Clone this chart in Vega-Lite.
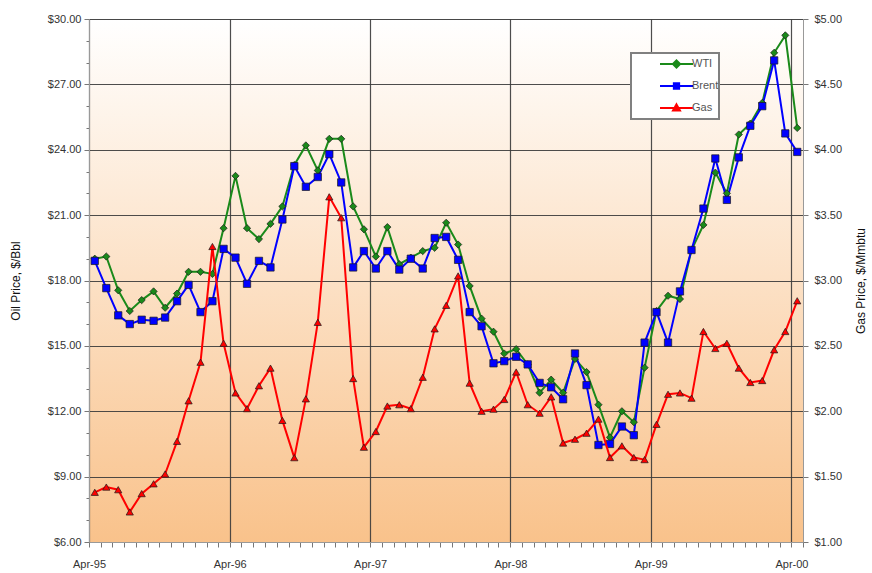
{
  "$schema": "https://vega.github.io/schema/vega-lite/v6.json",
  "width": 714,
  "height": 523,
  "autosize": {"type": "none"},
  "padding": {"left": 89, "top": 19, "right": 69, "bottom": 31},
  "view": {
    "fill": {"gradient": "linear", "x1": 0, "y1": 0, "x2": 0, "y2": 1,
      "stops": [{"offset": 0, "color": "#ffffff"}, {"offset": 1, "color": "#f9c28b"}]},
    "stroke": "#c8c8c8"
  },
  "data": {"values": [
    {"date": "1995-04-16", "WTI": 19.0, "Brent": 18.9, "Gas": 1.38},
    {"date": "1995-05-16", "WTI": 19.1, "Brent": 17.65, "Gas": 1.42},
    {"date": "1995-06-16", "WTI": 17.55, "Brent": 16.4, "Gas": 1.40},
    {"date": "1995-07-16", "WTI": 16.6, "Brent": 16.0, "Gas": 1.23},
    {"date": "1995-08-16", "WTI": 17.1, "Brent": 16.2, "Gas": 1.37},
    {"date": "1995-09-16", "WTI": 17.5, "Brent": 16.15, "Gas": 1.445},
    {"date": "1995-10-16", "WTI": 16.75, "Brent": 16.3, "Gas": 1.52},
    {"date": "1995-11-16", "WTI": 17.4, "Brent": 17.05, "Gas": 1.77},
    {"date": "1995-12-16", "WTI": 18.4, "Brent": 17.8, "Gas": 2.08},
    {"date": "1996-01-16", "WTI": 18.4, "Brent": 16.55, "Gas": 2.375},
    {"date": "1996-02-16", "WTI": 18.3, "Brent": 17.05, "Gas": 3.26},
    {"date": "1996-03-16", "WTI": 20.4, "Brent": 19.45, "Gas": 2.52},
    {"date": "1996-04-16", "WTI": 22.8, "Brent": 19.05, "Gas": 2.14},
    {"date": "1996-05-16", "WTI": 20.4, "Brent": 17.85, "Gas": 2.02},
    {"date": "1996-06-16", "WTI": 19.9, "Brent": 18.9, "Gas": 2.195},
    {"date": "1996-07-16", "WTI": 20.6, "Brent": 18.6, "Gas": 2.33},
    {"date": "1996-08-16", "WTI": 21.4, "Brent": 20.8, "Gas": 1.93},
    {"date": "1996-09-16", "WTI": 23.3, "Brent": 23.25, "Gas": 1.645},
    {"date": "1996-10-16", "WTI": 24.2, "Brent": 22.3, "Gas": 2.095},
    {"date": "1996-11-16", "WTI": 23.05, "Brent": 22.75, "Gas": 2.68},
    {"date": "1996-12-16", "WTI": 24.5, "Brent": 23.8, "Gas": 3.64},
    {"date": "1997-01-16", "WTI": 24.5, "Brent": 22.5, "Gas": 3.48},
    {"date": "1997-02-16", "WTI": 21.4, "Brent": 18.6, "Gas": 2.25},
    {"date": "1997-03-16", "WTI": 20.35, "Brent": 19.35, "Gas": 1.725},
    {"date": "1997-04-16", "WTI": 19.1, "Brent": 18.55, "Gas": 1.845},
    {"date": "1997-05-16", "WTI": 20.45, "Brent": 19.35, "Gas": 2.04},
    {"date": "1997-06-16", "WTI": 18.75, "Brent": 18.5, "Gas": 2.05},
    {"date": "1997-07-16", "WTI": 19.05, "Brent": 19.0, "Gas": 2.02},
    {"date": "1997-08-16", "WTI": 19.35, "Brent": 18.55, "Gas": 2.26},
    {"date": "1997-09-16", "WTI": 19.5, "Brent": 19.95, "Gas": 2.63},
    {"date": "1997-10-16", "WTI": 20.65, "Brent": 20.0, "Gas": 2.81},
    {"date": "1997-11-16", "WTI": 19.65, "Brent": 18.95, "Gas": 3.035},
    {"date": "1997-12-16", "WTI": 17.75, "Brent": 16.55, "Gas": 2.215},
    {"date": "1998-01-16", "WTI": 16.25, "Brent": 15.9, "Gas": 2.0},
    {"date": "1998-02-16", "WTI": 15.65, "Brent": 14.2, "Gas": 2.016},
    {"date": "1998-03-16", "WTI": 14.65, "Brent": 14.3, "Gas": 2.09},
    {"date": "1998-04-16", "WTI": 14.85, "Brent": 14.5, "Gas": 2.30},
    {"date": "1998-05-16", "WTI": 14.15, "Brent": 14.15, "Gas": 2.05},
    {"date": "1998-06-16", "WTI": 12.85, "Brent": 13.3, "Gas": 1.985},
    {"date": "1998-07-16", "WTI": 13.45, "Brent": 13.1, "Gas": 2.11},
    {"date": "1998-08-16", "WTI": 12.85, "Brent": 12.55, "Gas": 1.757},
    {"date": "1998-09-16", "WTI": 14.4, "Brent": 14.65, "Gas": 1.786},
    {"date": "1998-10-16", "WTI": 13.8, "Brent": 13.2, "Gas": 1.832},
    {"date": "1998-11-16", "WTI": 12.3, "Brent": 10.45, "Gas": 1.94},
    {"date": "1998-12-16", "WTI": 10.8, "Brent": 10.5, "Gas": 1.646},
    {"date": "1999-01-16", "WTI": 12.0, "Brent": 11.3, "Gas": 1.735},
    {"date": "1999-02-16", "WTI": 11.5, "Brent": 10.9, "Gas": 1.646},
    {"date": "1999-03-16", "WTI": 14.0, "Brent": 15.15, "Gas": 1.63},
    {"date": "1999-04-16", "WTI": 16.6, "Brent": 16.55, "Gas": 1.90},
    {"date": "1999-05-16", "WTI": 17.3, "Brent": 15.15, "Gas": 2.13},
    {"date": "1999-06-16", "WTI": 17.15, "Brent": 17.5, "Gas": 2.14},
    {"date": "1999-07-16", "WTI": 19.4, "Brent": 19.4, "Gas": 2.10},
    {"date": "1999-08-16", "WTI": 20.55, "Brent": 21.3, "Gas": 2.61},
    {"date": "1999-09-16", "WTI": 22.95, "Brent": 23.6, "Gas": 2.48},
    {"date": "1999-10-16", "WTI": 22.0, "Brent": 21.7, "Gas": 2.52},
    {"date": "1999-11-16", "WTI": 24.7, "Brent": 23.65, "Gas": 2.33},
    {"date": "1999-12-16", "WTI": 25.2, "Brent": 25.1, "Gas": 2.22},
    {"date": "2000-01-16", "WTI": 26.15, "Brent": 26.0, "Gas": 2.235},
    {"date": "2000-02-16", "WTI": 28.45, "Brent": 28.1, "Gas": 2.47},
    {"date": "2000-03-16", "WTI": 29.25, "Brent": 24.75, "Gas": 2.61},
    {"date": "2000-04-16", "WTI": 25.0, "Brent": 23.9, "Gas": 2.845}
  ]},
  "transform": [{"fold": ["WTI", "Brent", "Gas"], "as": ["series", "value"]}],
  "encoding": {
    "x": {
      "field": "date", "type": "temporal",
      "scale": {"type": "utc", "domain": [{"year": 1995, "month": 4, "date": 1, "utc": true}, {"year": 2000, "month": 5, "date": 1, "utc": true}]},
      "axis": {
        "title": null,
        "tickCount": {"interval": "month", "step": 1},
        "labelExpr": "utcmonth(datum.value) === 3 ? utcFormat(datum.value, '%b-%y') : ''",
        "labelFlush": false,
        "labelOverlap": false,
        "labelPadding": 11,
        "tickSize": 5,
        "grid": true,
        "gridColor": "#3a3a3a",
        "gridWidth": 1.2,
        "gridOpacity": {"condition": {"test": "utcmonth(datum.value) === 3", "value": 0.9}, "value": 0}
      }
    }
  },
  "layer": [
    {
      "transform": [{"filter": "datum.series !== 'Gas'"}],
      "encoding": {
        "y": {
          "field": "value", "type": "quantitative",
          "scale": {"domain": [6, 30], "nice": false, "zero": false},
          "axis": {
            "orient": "left",
            "title": "Oil Price, $/Bbl",
            "titlePadding": 25,
            "values": [6, 7, 8, 9, 10, 11, 12, 13, 14, 15, 16, 17, 18, 19, 20, 21, 22, 23, 24, 25, 26, 27, 28, 29, 30],
            "format": "$.2f",
            "labelExpr": "datum.value % 3 === 0 ? datum.label : ''",
            "labelPadding": 3,
            "tickSize": {"condition": {"test": "datum.value % 3 === 0", "value": 5}, "value": 3},
            "grid": true,
            "gridColor": "#3a3a3a",
            "gridWidth": 1.2,
            "gridOpacity": {"condition": {"test": "datum.value % 3 === 0", "value": 0.9}, "value": 0}
          }
        }
      },
      "layer": [
        {
          "mark": {"type": "line", "strokeWidth": 2},
          "encoding": {
            "color": {"field": "series", "type": "nominal", "scale": {"domain": ["WTI", "Brent"], "range": ["#1a8a1a", "#0000ff"]}, "legend": null}
          }
        },
        {
          "transform": [{"filter": "datum.series === 'WTI'"}],
          "mark": {"type": "point", "shape": "diamond", "filled": true, "fill": "#1a8a1a", "opacity": 1, "stroke": "#1a1a1a", "strokeWidth": 0.7, "size": 52}
        },
        {
          "transform": [{"filter": "datum.series === 'Brent'"}],
          "mark": {"type": "point", "shape": "square", "filled": true, "fill": "#0000ff", "opacity": 1, "stroke": "#1a1a1a", "strokeWidth": 0.7, "size": 54}
        },
        {
          "transform": [{"filter": "false"}],
          "mark": {"type": "point", "opacity": 1},
          "encoding": {
            "shape": {
              "field": "series", "type": "nominal",
              "scale": {"domain": ["WTI", "Brent", "Gas"], "range": [
                "M-1,0L1,0M0,-0.22L0.22,0L0,0.22L-0.22,0ZM4.7,0",
                "M-1,0L1,0M-0.16,-0.16H0.16V0.16H-0.16ZM4.7,0",
                "M-1,0L1,0M0,-0.22L0.21,0.15H-0.21ZM4.7,0"
              ]},
              "legend": {
                "orient": "none", "legendX": 542, "legendY": 34, "title": null,
                "padding": 0, "clipHeight": 22, "rowPadding": 0,
                "symbolSize": 1089, "symbolStrokeWidth": 2, "symbolOffset": 28,
                "labelOffset": -2,
                "labelFont": "Liberation Sans", "labelFontSize": 11, "labelColor": "#555555",
                "fillColor": "#ffffff", "strokeColor": "#808080"
              }
            },
            "fill": {"field": "series", "type": "nominal", "scale": {"domain": ["WTI", "Brent", "Gas"], "range": ["#1a8a1a", "#0000ff", "#ff0000"]}},
            "stroke": {"field": "series", "type": "nominal", "scale": {"domain": ["WTI", "Brent", "Gas"], "range": ["#1a8a1a", "#0000ff", "#ff0000"]}}
          }
        }
      ]
    },
    {
      "transform": [{"filter": "datum.series === 'Gas'"}],
      "encoding": {
        "y": {
          "field": "value", "type": "quantitative",
          "scale": {"domain": [1, 5], "nice": false, "zero": false},
          "axis": {
            "orient": "right",
            "title": "Gas Price, $/Mmbtu",
            "titleAngle": 270,
            "titleBaseline": "top",
            "titlePadding": 14,
            "values": [1, 1.5, 2, 2.5, 3, 3.5, 4, 4.5, 5],
            "format": "$.2f",
            "labelPadding": 6,
            "tickSize": 5,
            "grid": false
          }
        }
      },
      "layer": [
        {"mark": {"type": "line", "strokeWidth": 2, "color": "#ff0000"}},
        {"mark": {"type": "point", "shape": "triangle-up", "filled": true, "fill": "#ff0000", "opacity": 1, "stroke": "#1a1a1a", "strokeWidth": 0.7, "size": 52}}
      ]
    }
  ],
  "resolve": {"scale": {"y": "independent"}},
  "config": {
    "font": "Liberation Sans",
    "axis": {
      "labelFont": "Liberation Sans", "labelFontSize": 11, "labelColor": "#333333",
      "titleFont": "Liberation Sans", "titleFontSize": 12, "titleFontWeight": "normal", "titleColor": "#111111",
      "domainColor": "#999999", "tickColor": "#777777"
    },
    "legend": {"strokeWidth": 2}
  }
}
